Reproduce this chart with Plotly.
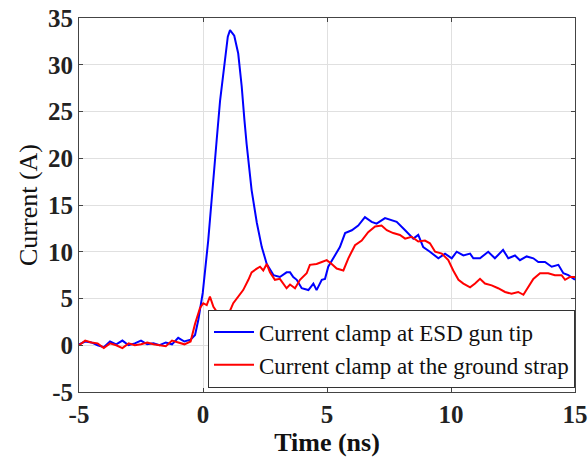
import plotly.graph_objects as go

# Blue: current clamp at ESD gun tip
t_blue = [-5.0, -4.75, -4.5, -4.25, -4.0, -3.75, -3.5, -3.25, -3.0, -2.75, -2.5, -2.25, -2.0,
          -1.75, -1.5, -1.25, -1.0, -0.75, -0.5, -0.32, -0.19, -0.01, 0.21, 0.42, 0.55, 0.69,
          0.89, 1.0, 1.09, 1.26, 1.42, 1.56, 1.67, 1.76, 1.96, 2.17, 2.37, 2.57, 2.84, 3.1,
          3.37, 3.51, 3.64, 3.78, 3.98, 4.25, 4.45, 4.58, 4.79, 4.92, 5.05, 5.25, 5.52, 5.73,
          6.0, 6.26, 6.53, 6.8, 7.0, 7.34, 7.81, 8.15, 8.48, 8.68, 8.88, 9.15, 9.49, 9.76,
          10.03, 10.23, 10.5, 10.77, 10.9, 11.17, 11.5, 11.77, 12.1, 12.31, 12.58, 12.78,
          13.05, 13.32, 13.52, 13.79, 14.06, 14.33, 14.53, 14.73, 15.0]
i_blue = [0.1, 0.4, 0.3, 0.0, -0.2, 0.4, 0.1, 0.5, 0.0, 0.2, 0.5, 0.1, 0.2,
          0.0, 0.3, 0.1, 0.8, 0.4, 0.6, 1.1, 2.7, 5.6, 11.2, 18.4, 21.9, 26.2,
          30.2, 33.0, 33.7, 33.1, 31.2, 27.7, 24.1, 21.5, 16.6, 13.1, 10.5, 8.7, 7.5, 7.3,
          7.8, 7.8, 7.3, 7.0, 6.1, 5.9, 6.6, 5.9, 7.0, 7.1, 8.4, 9.3, 10.5, 12.0,
          12.3, 12.8, 13.7, 13.2, 13.0, 13.6, 13.2, 12.3, 11.4, 11.8, 10.5, 10.0, 9.3, 9.8,
          9.3, 10.0, 9.6, 9.8, 9.3, 9.3, 10.0, 9.3, 10.2, 9.3, 9.6, 9.1,
          9.5, 9.3, 8.9, 8.9, 8.4, 8.6, 7.7, 7.5, 7.0]

# Red: current clamp at the ground strap
t_red = [-5.0, -4.75, -4.5, -4.25, -4.0, -3.75, -3.5, -3.25, -3.0, -2.75, -2.5, -2.25, -2.0,
         -1.75, -1.5, -1.25, -1.0, -0.75, -0.5, -0.32, -0.12, 0.01, 0.15, 0.28, 0.42, 0.55,
         0.69, 0.82, 0.96, 1.09, 1.22, 1.42, 1.62, 1.83, 1.96, 2.17, 2.3, 2.43, 2.57, 2.7,
         2.9, 3.1, 3.24, 3.37, 3.51, 3.71, 3.91, 4.18, 4.31, 4.58, 4.79, 4.99, 5.19, 5.39,
         5.66, 5.86, 6.13, 6.4, 6.66, 6.94, 7.2, 7.41, 7.67, 7.94, 8.15, 8.41, 8.68, 8.95,
         9.15, 9.36, 9.63, 9.89, 10.09, 10.3, 10.5, 10.77, 10.97, 11.17, 11.37, 11.64, 11.9,
         12.18, 12.44, 12.71, 12.92, 13.12, 13.32, 13.59, 13.92, 14.19, 14.46, 14.6, 14.8, 15.0]
i_red = [0.0, 0.5, 0.3, 0.2, -0.3, 0.2, 0.0, -0.3, 0.2, 0.0, 0.1, 0.3, 0.1,
         0.0, -0.1, 0.5, 0.3, 0.1, 0.4, 2.3, 4.0, 4.5, 4.3, 5.2, 4.1, 3.6,
         3.4, 3.6, 3.2, 3.7, 4.5, 5.2, 5.9, 7.0, 7.8, 8.2, 8.4, 8.0, 8.7, 7.8,
         7.0, 7.1, 6.6, 6.1, 6.5, 6.1, 7.0, 7.7, 8.6, 8.7, 8.9, 9.1, 8.7, 8.2,
         8.0, 9.3, 10.7, 11.2, 12.1, 12.7, 12.8, 12.3, 12.0, 11.8, 11.4, 11.6, 11.1, 11.2,
         10.9, 10.0, 9.8, 9.1, 8.0, 7.0, 6.6, 6.2, 6.6, 7.1, 6.6, 6.4, 6.1,
         5.7, 5.5, 5.7, 5.4, 6.2, 7.1, 7.7, 7.7, 7.5, 7.5, 7.0, 7.3, 7.3]

x_ticks = [-5, 0, 5, 10, 15]
y_ticks = [-5, 0, 5, 10, 15, 20, 25, 30, 35]

font_family = "Liberation Serif, Times New Roman, serif"

fig = go.Figure()
fig.add_trace(go.Scatter(x=t_blue, y=i_blue, mode="lines", line=dict(color="#0000ff", width=2),
                         name="Current clamp at ESD gun tip"))
fig.add_trace(go.Scatter(x=t_red, y=i_red, mode="lines", line=dict(color="#ff0000", width=2),
                         name="Current clamp at the ground strap"))

axis_common = dict(showline=True, linecolor="#444444", linewidth=1, mirror="ticks",
                   ticks="inside", ticklen=4, tickcolor="#444444",
                   showgrid=True, gridcolor="#e0e0e0", gridwidth=1, zeroline=False,
                   automargin=False,
                   tickfont=dict(family=font_family, size=25, color="#222222"))

fig.update_xaxes(range=[-5, 15], tickvals=x_ticks, ticktext=[f"<b>{v}</b>" for v in x_ticks],
                 title=dict(text="<b>Time (ns)</b>", font=dict(family=font_family, size=26, color="#111111"),
                            standoff=0),
                 **axis_common)
fig.update_yaxes(range=[-5, 35], tickvals=y_ticks, ticktext=[f"<b>{v}</b>" for v in y_ticks],
                 title=dict(text="Current (A)", font=dict(family=font_family, size=26, color="#111111"),
                            standoff=2),
                 **axis_common)

fig.update_layout(
    width=588, height=461,
    margin=dict(l=79, r=13, t=18, b=69),
    plot_bgcolor="white", paper_bgcolor="white",
    showlegend=True,
    legend=dict(x=1, xanchor="right", y=0.012, yanchor="bottom",
                bgcolor="white", bordercolor="#333333", borderwidth=1,
                font=dict(family=font_family, size=23, color="#111111"),
                tracegroupgap=0, itemwidth=40),
)

fig.write_html("out.html")
